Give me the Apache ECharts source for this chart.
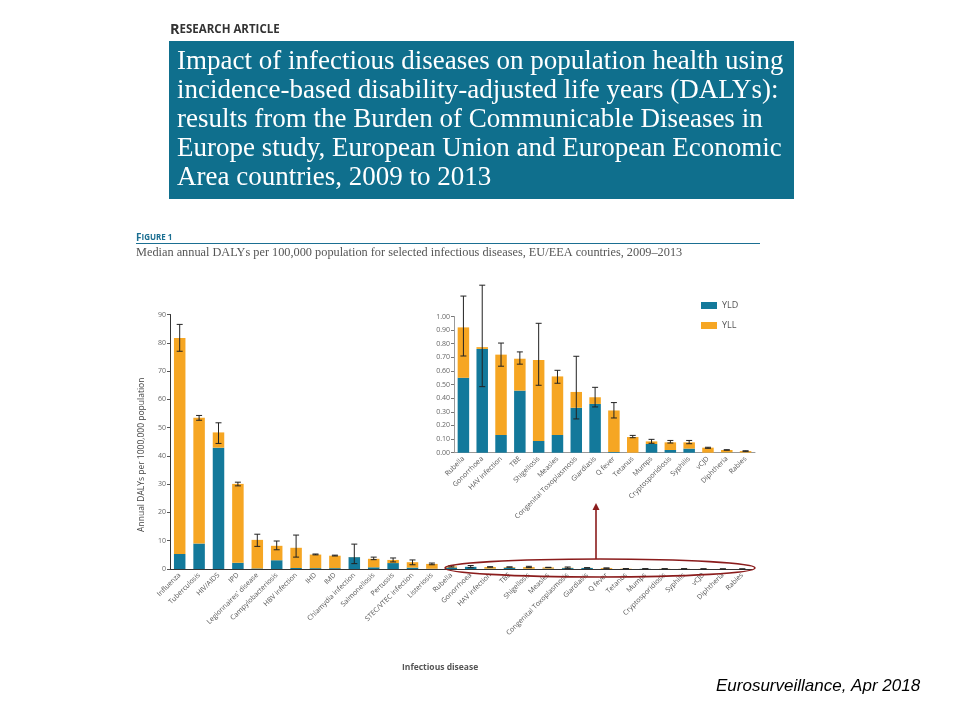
<!DOCTYPE html>
<html>
<head>
<meta charset="utf-8">
<script src="https://cdn.jsdelivr.net/npm/echarts@6/dist/echarts.min.js"></script>
<style>html,body{margin:0;padding:0;background:#fff;}#c{width:960px;height:720px;}</style>
</head>
<body>
<div id="c"></div>
<script>
// ---- Data ----
const mainCats = ['Influenza','Tuberculosis','HIV/AIDS','IPD',"Legionnaires' disease",'Campylobacteriosis','HBV infection','IHD','IMD','Chlamydia infection','Salmonellosis','Pertussis','STEC/VTEC infection','Listeriosis'];
const mainYLD = [5.3, 9.0, 42.9, 2.2, 0.2, 3.1, 0.35, 0.3, 0.3, 4.2, 0.6, 2.1, 0.5, 0.1];
const mainYLL = [76.4, 44.5, 5.4, 27.9, 10.1, 5.1, 7.15, 4.8, 4.4, 0.05, 3.0, 1.1, 1.9, 1.7];
const mainLow = [77.0, 52.6, 44.4, 29.4, 8.0, 6.8, 4.2, 5.0, 4.6, 1.9, 3.3, 2.5, 1.5, 1.5];
const mainHigh = [86.5, 54.3, 51.7, 30.7, 12.3, 9.9, 12.0, 5.3, 4.9, 8.8, 4.2, 3.9, 3.2, 2.1];

const insetCats = ['Rubella','Gonorrhoea','HAV infection','TBE','Shigellosis','Measles','Congenital Toxoplasmosis','Giardiasis','Q fever','Tetanus','Mumps','Cryptosporidiosis','Syphilis','vCJD','Diphtheria','Rabies'];
const insetYLD = [0.55, 0.762, 0.13, 0.456, 0.086, 0.13, 0.33, 0.358, 0.005, 0, 0.064, 0.02, 0.03, 0, 0.002, 0.001];
const insetYLL = [0.37, 0.013, 0.59, 0.234, 0.594, 0.43, 0.116, 0.049, 0.305, 0.115, 0.019, 0.056, 0.046, 0.037, 0.018, 0.011];
const insetLow = [0.71, 0.485, 0.635, 0.65, 0.495, 0.51, 0.248, 0.336, 0.255, 0.11, 0.069, 0.071, 0.066, 0.032, 0.018, 0.010];
const insetHigh = [1.15, 1.23, 0.805, 0.74, 0.95, 0.605, 0.708, 0.48, 0.368, 0.127, 0.098, 0.09, 0.09, 0.040, 0.022, 0.014];

const mainTicks = {min: 0, max: 90, interval: 10};
const insetTicks = {min: 0, max: 1, interval: 0.1};

// ---- Build ----
const allCats = mainCats.concat(insetCats);
const allYLD = mainYLD.concat(insetYLD);
const allYLL = mainYLL.concat(insetYLL);
const allLow = mainLow.concat(insetLow);
const allHigh = mainHigh.concat(insetHigh);

const BLUE = '#13799b', ORANGE = '#f6a623', DARKRED = '#8b1c1c';
const tickFont = 'Open Sans';

function errItem(params, api) {
  const x = api.value(0);
  const lo = api.coord([x, api.value(1)]);
  const hi = api.coord([x, api.value(2)]);
  const hw = 3;
  return {
    type: 'group',
    children: [
      {type: 'line', shape: {x1: lo[0], y1: lo[1], x2: hi[0], y2: hi[1]}, style: {stroke: '#222', lineWidth: 1}},
      {type: 'line', shape: {x1: lo[0]-hw, y1: lo[1], x2: lo[0]+hw, y2: lo[1]}, style: {stroke: '#222', lineWidth: 1}},
      {type: 'line', shape: {x1: hi[0]-hw, y1: hi[1], x2: hi[0]+hw, y2: hi[1]}, style: {stroke: '#222', lineWidth: 1}}
    ]
  };
}

const chart = echarts.init(document.getElementById('c'), null, {renderer: 'canvas'});
const option = {
  backgroundColor: '#fff',
  animation: false,
  grid: [
    {left: 170, top: 314.5, width: 582, height: 254.5},
    {left: 454, top: 316.5, width: 301, height: 136.2}
  ],
  legend: {
    data: ['YLD', 'YLL'], orient: 'vertical', left: 696, top: 296,
    itemWidth: 16, itemHeight: 7, itemGap: 11, icon: 'rect',
    textStyle: {fontFamily: tickFont, fontSize: 9, color: '#555'}
  },
  xAxis: [
    {type: 'category', gridIndex: 0, data: allCats,
     axisLine: {lineStyle: {color: '#333', width: 1}}, axisTick: {show: false},
     axisLabel: {rotate: 45, fontFamily: tickFont, fontSize: 7, color: '#555', margin: 5, interval: 0}},
    {type: 'category', gridIndex: 1, data: insetCats,
     axisLine: {lineStyle: {color: '#999', width: 1}}, axisTick: {show: false},
     axisLabel: {rotate: 45, fontFamily: tickFont, fontSize: 7, color: '#555', margin: 5, interval: 0}}
  ],
  yAxis: [
    {type: 'value', gridIndex: 0, min: mainTicks.min, max: mainTicks.max, interval: mainTicks.interval,
     name: 'Annual DALYs per 1000,000 population', nameLocation: 'middle', nameGap: 24,
     nameTextStyle: {fontFamily: tickFont, fontSize: 8.5, color: '#444', padding: [0, 26, 0, 0]},
     axisLine: {show: true, lineStyle: {color: '#333'}}, axisTick: {show: true, length: 3, lineStyle: {color: '#555'}},
     splitLine: {show: false},
     axisLabel: {fontFamily: tickFont, fontSize: 7, color: '#666', margin: 4}},
    {type: 'value', gridIndex: 1, min: insetTicks.min, max: insetTicks.max, interval: insetTicks.interval,
     axisLine: {show: true, lineStyle: {color: '#999'}}, axisTick: {show: true, length: 3, lineStyle: {color: '#777'}},
     splitLine: {show: false},
     axisLabel: {fontFamily: tickFont, fontSize: 7, color: '#666', margin: 4, formatter: v => v.toFixed(2)}}
  ],
  series: [
    {name: 'YLD', type: 'bar', stack: 'm', xAxisIndex: 0, yAxisIndex: 0, data: allYLD, barWidth: 11.5, itemStyle: {color: BLUE}},
    {name: 'YLL', type: 'bar', stack: 'm', xAxisIndex: 0, yAxisIndex: 0, data: allYLL, barWidth: 11.5, itemStyle: {color: ORANGE}},
    {name: 'errMain', type: 'custom', xAxisIndex: 0, yAxisIndex: 0, renderItem: errItem, clip: false, z: 5,
     data: allCats.map((c, i) => [i, allLow[i], allHigh[i]])},
    {name: 'YLD', type: 'bar', stack: 'i', xAxisIndex: 1, yAxisIndex: 1, data: insetYLD, barWidth: 11.5, itemStyle: {color: BLUE}},
    {name: 'YLL', type: 'bar', stack: 'i', xAxisIndex: 1, yAxisIndex: 1, data: insetYLL, barWidth: 11.5, itemStyle: {color: ORANGE}},
    {name: 'errInset', type: 'custom', xAxisIndex: 1, yAxisIndex: 1, renderItem: errItem, clip: false, z: 5,
     data: insetCats.map((c, i) => [i, insetLow[i], insetHigh[i]])}
  ],
  graphic: [
    {type: 'text', left: 170, top: 22, style: {
      text: '{b|R}{s|ESEARCH ARTICLE}',
      rich: {b: {fontFamily: 'Open Sans', fontWeight: 'bold', fontSize: 14.5, fill: '#333'},
             s: {fontFamily: 'Open Sans', fontWeight: 'bold', fontSize: 11.5, fill: '#333'}}}},
    {type: 'rect', shape: {x: 169, y: 41, width: 625, height: 158}, style: {fill: '#0f6f8d'}},
    {type: 'text', left: 177, top: 47, style: {
      text: 'Impact of infectious diseases on population health using\nincidence-based disability-adjusted life years (DALYs):\nresults from the Burden of Communicable Diseases in\nEurope study, European Union and European Economic\nArea countries, 2009 to 2013',
      fontFamily: 'Liberation Serif', fontSize: 27, lineHeight: 29, fill: '#fff'}},
    {type: 'text', left: 136, top: 233, style: {
      text: '{b|F}{s|IGURE 1}',
      rich: {b: {fontFamily: 'Open Sans', fontWeight: 'bold', fontSize: 10, fill: '#1b6f92'},
             s: {fontFamily: 'Open Sans', fontWeight: 'bold', fontSize: 8, fill: '#1b6f92'}}}},
    {type: 'line', shape: {x1: 136, y1: 243.5, x2: 760, y2: 243.5}, style: {stroke: '#1b6f92', lineWidth: 1}},
    {type: 'text', left: 136, top: 247, style: {
      text: 'Median annual DALYs per 100,000 population for selected infectious diseases, EU/EEA countries, 2009\u20132013',
      fontFamily: 'Liberation Serif', fontSize: 12.3, fill: '#555'}},
    {type: 'text', left: 402, top: 663, style: {text: 'Infectious disease', fontFamily: 'Open Sans', fontWeight: 'bold', fontSize: 8.5, fill: '#555'}},
    {type: 'ellipse', shape: {cx: 600, cy: 568, rx: 155, ry: 9}, style: {fill: 'none', stroke: DARKRED, lineWidth: 1.6}, z: 10},
    {type: 'line', shape: {x1: 596, y1: 559, x2: 596, y2: 508}, style: {stroke: DARKRED, lineWidth: 1.6}, z: 10},
    {type: 'polygon', shape: {points: [[592.5, 510], [596, 503], [599.5, 510]]}, style: {fill: DARKRED}, z: 10},
    {type: 'text', left: 716, top: 678, style: {text: 'Eurosurveillance, Apr 2018', fontFamily: 'Liberation Sans', fontStyle: 'italic', fontSize: 17, fill: '#000'}}
  ]
};
chart.setOption(option);
</script>
</body>
</html>
